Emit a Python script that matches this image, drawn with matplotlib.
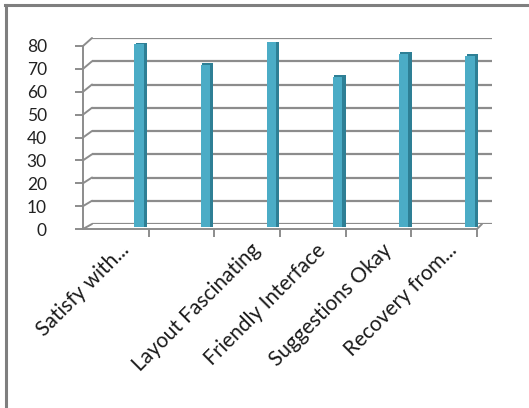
import matplotlib.pyplot as plt
from matplotlib.lines import Line2D
from matplotlib.patches import ConnectionPatch

categories = ["Satisfy with...", "", "Layout Fascinating", "Friendly Interface",
              "Suggestions Okay", "Recovery from..."]
values = [79, 70, 80, 65, 75, 74]
yticks = [0, 10, 20, 30, 40, 50, 60, 70, 80]

W, H = 529, 408
plt.rcParams['font.family'] = ['Lato', 'DejaVu Sans']

fig = plt.figure(figsize=(W / 100, H / 100), dpi=100)


def box(left, right, top, bottom):
    return [left / W, 1 - bottom / H, (right - left) / W, (bottom - top) / H]


grid_c = "#8c8c8c"
x = list(range(len(values)))

# back wall: gridlines
ax_back = fig.add_axes(box(92, 492, 38, 224))
ax_back.set_xlim(-0.70, 5.30)
ax_back.set_ylim(0, 80)
ax_back.set_yticks(yticks)
ax_back.yaxis.grid(True, color=grid_c, lw=1.6)
ax_back.tick_params(left=False, bottom=False, labelleft=False, labelbottom=False)
for s in ax_back.spines.values():
    s.set_visible(False)
ax_back.patch.set_alpha(0)

# front frame: axis lines, ticks, labels
ax_front = fig.add_axes(box(83, 477, 46, 229))
ax_front.set_xlim(-0.85, 5.15)
ax_front.set_ylim(0, 80)
ax_front.patch.set_alpha(0)
for s in ["top", "right"]:
    ax_front.spines[s].set_visible(False)
for s in ["left", "bottom"]:
    ax_front.spines[s].set_color(grid_c)
    ax_front.spines[s].set_linewidth(1.4)
ax_front.set_yticks(yticks)
ax_front.set_yticklabels([str(v) for v in yticks], fontsize=12.5, color="#222222")
ax_front.tick_params(axis="y", length=6, width=1.4, color=grid_c, pad=20)
ax_front.set_xticks([i - 0.2 for i in x])
ax_front.set_xticklabels(categories, rotation=45, ha="right", va="center",
                         rotation_mode="anchor", fontsize=15, color="#1a1a1a")
ax_front.tick_params(axis="x", length=0, pad=13)
ax_front.set_xticks([i + 0.15 for i in x], minor=True)
ax_front.tick_params(axis="x", which="minor", length=6, width=1.4, color=grid_c)

# left wall / floor connectors
for v in yticks:
    fig.add_artist(ConnectionPatch(xyA=(-0.85, v), coordsA=ax_front.transData,
                                   xyB=(-0.70, v), coordsB=ax_back.transData,
                                   color=grid_c, lw=1.4))
fig.add_artist(ConnectionPatch(xyA=(5.15, 0), coordsA=ax_front.transData,
                               xyB=(5.15, 0), coordsB=ax_back.transData,
                               color=grid_c, lw=1.4))

# bars at mid depth
ax_mid = fig.add_axes(box(87.5, 484.5, 42, 226.5))
ax_mid.set_xlim(-0.78, 5.22)
ax_mid.set_ylim(0, 80)
ax_mid.axis("off")
ax_mid.bar([i + 0.035 for i in x], [v + 0.7 for v in values], width=0.17,
           color="#2e7f95", linewidth=0)
ax_mid.bar(x, values, width=0.14, color="#4bacc6", linewidth=0)

# outer frame
fig.add_artist(Line2D([5 / W, 1], [1 - 5 / H, 1 - 5 / H], color="#7f7f7f", lw=2.2))
fig.add_artist(Line2D([6 / W, 6 / W], [0, 1 - 5 / H], color="#7f7f7f", lw=2.2))

fig.savefig("out.png", dpi=100)
